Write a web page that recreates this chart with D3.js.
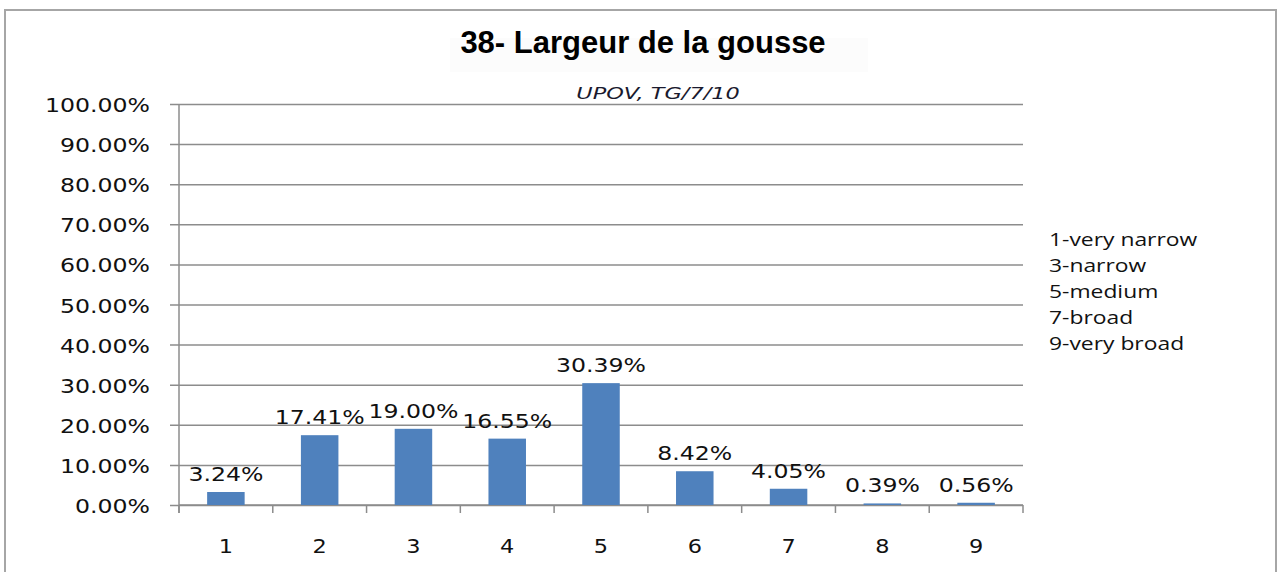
<!DOCTYPE html>
<html>
<head>
<meta charset="utf-8">
<style>
body { margin: 0; background: #fff; }
svg text { fill: #111; }
</style>
</head>
<body>
<svg width="1283" height="572"></svg>
<script src="https://cdn.jsdelivr.net/npm/d3@7"></script>
<script>
// chart data
const categories = ["1", "2", "3", "4", "5", "6", "7", "8", "9"];
const values = [3.24, 17.41, 19.00, 16.55, 30.39, 8.42, 4.05, 0.39, 0.56];
const yTicks = [0, 10, 20, 30, 40, 50, 60, 70, 80, 90, 100];
const legendItems = ["1-very narrow", "3-narrow", "5-medium", "7-broad", "9-very broad"];

const svg = d3.select("svg");
const mLeft = 179, mRight = 1023, mTop = 104, mBottom = 505;
const stretch = 1.18; // the source picture is a bit wider than tall
const labelFont = "20px 'DejaVu Sans', Verdana, sans-serif";

// outer frame
svg.append("rect")
    .attr("x", 5).attr("y", 10)
    .attr("width", 1271).attr("height", 575)
    .attr("fill", "none")
    .attr("stroke", "#a6a6a6")
    .attr("stroke-width", 2);

// title
svg.append("rect")
    .attr("x", 450).attr("y", 38).attr("width", 418).attr("height", 34)
    .attr("fill", "#fcfcfc");
svg.append("text")
    .attr("x", 643).attr("y", 53)
    .attr("text-anchor", "middle")
    .style("font", "bold 31px 'Liberation Sans', Arial, sans-serif")
    .style("fill", "#000")
    .text("38- Largeur de la gousse");

svg.append("text")
    .attr("transform", "translate(658,99) scale(1.4,1)")
    .attr("text-anchor", "middle")
    .style("font", "italic 16px 'DejaVu Sans', Verdana, sans-serif")
    .style("fill", "#1a1a2e")
    .text("UPOV, TG/7/10");

const x = d3.scaleBand()
    .domain(categories)
    .range([mLeft, mRight])
    .paddingInner(0.6)
    .paddingOuter(0.3);

const y = d3.scaleLinear()
    .domain([0, 100])
    .range([mBottom, mTop]);

// gridlines + y axis
const yAxis = d3.axisLeft(y)
    .tickValues(yTicks)
    .tickSize(-(mRight - mLeft))
    .tickPadding(0)
    .tickFormat(d => d.toFixed(2) + "%");

const gy = svg.append("g")
    .attr("transform", "translate(" + mLeft + ",0)")
    .call(yAxis);
gy.select(".domain").remove();
gy.selectAll(".tick line")
    .attr("x1", -9)
    .attr("stroke", "#8c8c8c")
    .attr("stroke-width", 1.5);
gy.selectAll(".tick text")
    .attr("x", 0)
    .attr("dy", null)
    .attr("transform", "translate(-29,7.5) scale(" + stretch + ",1)")
    .style("font", labelFont)
    .style("fill", "#111");

// y axis line
svg.append("line")
    .attr("x1", mLeft).attr("x2", mLeft)
    .attr("y1", mTop).attr("y2", mBottom + 8)
    .attr("stroke", "#8c8c8c").attr("stroke-width", 1.5);

// x axis with ticks between categories
const step = (mRight - mLeft) / categories.length;
const xAxisG = svg.append("g");
xAxisG.append("line")
    .attr("x1", mLeft).attr("x2", mRight)
    .attr("y1", mBottom).attr("y2", mBottom)
    .attr("stroke", "#8c8c8c").attr("stroke-width", 1.5);
xAxisG.selectAll(".xtick")
    .data(d3.range(categories.length + 1))
    .join("line")
    .attr("x1", i => mLeft + i * step).attr("x2", i => mLeft + i * step)
    .attr("y1", mBottom).attr("y2", mBottom + 8)
    .attr("stroke", "#8c8c8c").attr("stroke-width", 1.5);
xAxisG.selectAll(".xlab")
    .data(categories)
    .join("text")
    .attr("transform", d => "translate(" + (x(d) + x.bandwidth() / 2) + ",553) scale(" + stretch + ",1)")
    .attr("text-anchor", "middle")
    .style("font", "19px 'DejaVu Sans', Verdana, sans-serif")
    .text(d => d);

// bars
svg.selectAll(".bar")
    .data(values)
    .join("rect")
    .attr("x", (d, i) => x(categories[i]))
    .attr("y", d => y(d))
    .attr("width", x.bandwidth())
    .attr("height", d => y(0) - y(d))
    .attr("fill", "#4f81bd");

// value labels
svg.selectAll(".lbl")
    .data(values)
    .join("text")
    .attr("transform", (d, i) => "translate(" + (x(categories[i]) + x.bandwidth() / 2) + "," + (y(d) - 11) + ") scale(" + stretch + ",1)")
    .attr("text-anchor", "middle")
    .style("font", labelFont)
    .text(d => d.toFixed(2) + "%");

// legend text
svg.selectAll(".leg")
    .data(legendItems)
    .join("text")
    .attr("transform", (d, i) => "translate(1049," + (246 + i * 26) + ") scale(1.27,1)")
    .style("font", "18px 'Open Sans', 'DejaVu Sans', sans-serif")
    .text(d => d);
</script>
</body>
</html>
